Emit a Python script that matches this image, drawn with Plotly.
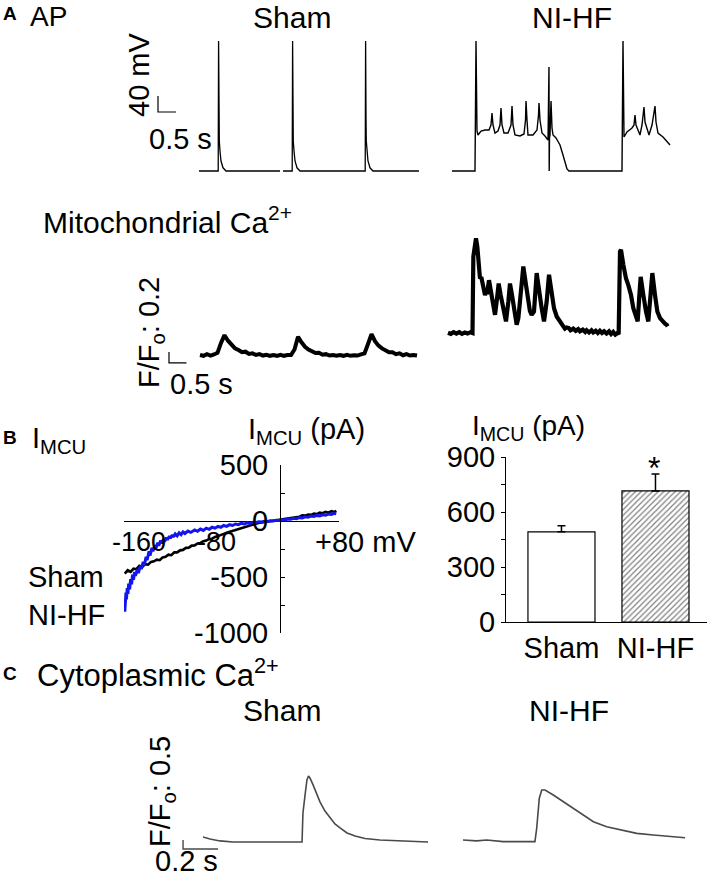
import plotly.graph_objects as go

W, H = 709, 878
FONT = "Liberation Sans, Arial, Helvetica, sans-serif"

# ---------------- Panel A : action potentials (time s, Vm mV) ----------------
sham_ap_t = [0.0, 0.533, 0.544, 0.556, 0.564, 0.583, 0.611, 0.667, 0.75, 2.25, None,
             2.333, 2.589, 2.6, 2.611, 2.619, 2.639, 2.667, 2.722, 2.806,
             4.617, 4.628, 4.639, 4.647, 4.667, 4.694, 4.75, 4.833, 6.11]
sham_ap_v = [-80, -80, 245, 55, -5, -30, -55, -72, -80, -80, None,
             -80, -80, 245, 55, -5, -30, -55, -72, -80,
             -80, 245, 55, -5, -30, -55, -72, -80, -80]
nihf_ap_t = [0, 0.639, 0.667, 0.694, 0.722, 0.806, 0.917, 1.028, 1.083, 1.111, 1.139, 1.194,
             1.278, 1.333, 1.361, 1.389, 1.444, 1.556, 1.639, 1.667, 1.694, 1.75, 1.889, 2.0,
             2.042, 2.056, 2.083, 2.111, 2.25, 2.361, 2.403, 2.417, 2.444, 2.5, 2.583, 2.667,
             2.694, 2.7, 2.708, 2.722, 2.75, 2.778, 2.806, 2.889, 3.0, 3.083, 3.139, 3.194, 3.25,
             4.722, 4.75, 4.778, 4.861, 5.0, 5.056, 5.083, 5.111, 5.222, 5.278, 5.333, 5.361,
             5.472, 5.556, 5.639, 5.667, 5.722, 5.861, 6.056]
nihf_ap_v = [-80, -80, 245, 20, 10, 20, 22.5, 22.5, 35, 65, 35, 15,
             20, 35, 77.5, 35, 15, 15, 35, 82.5, 35, 10, 7.5, 12.5,
             47.5, 95, 47.5, 10, 10, 22.5, 60, 90, 47.5, 15, 7.5, -2.5,
             180, -80, 2.5, 10, 95, 27.5, 10, 2.5, -15, -40, -60, -75, -80,
             -80, 245, 5, 17.5, 27.5, 35, 60, 35, 10, 35, 80, 42.5,
             10, 35, 82.5, 42.5, 15, 5, -15]
ap_bar_t = [-1.139, -1.139, -0.639]      # 0.5 s
ap_bar_v = [107.5, 67.5, 67.5]           # 40 mV

# ---------------- Panel A : mitochondrial Ca2+ (time s, F/F0) ----------------
sham_mito_t = [0.0, 0.1, 0.2, 0.3, 0.4, 0.5, 0.6, 0.7, 0.8, 0.9,
               1.0, 1.1, 1.2, 1.3, 1.4, 1.5, 1.6, 1.7, 1.8, 1.9,
               2.0, 2.1, 2.2, 2.3, 2.4, 2.5, 2.6, 2.7, 2.8, 2.9,
               3.0, 3.1, 3.2, 3.3, 3.4, 3.5, 3.6, 3.7, 3.8, 3.9,
               4.0, 4.1, 4.2, 4.3, 4.4, 4.5, 4.6, 4.7, 4.8, 4.9,
               5.0, 5.1, 5.2, 5.3, 5.4, 5.5, 5.6, 5.7, 5.8, 5.9,
               6.0, 6.1, 6.2]
sham_mito_f = [1.00, 0.985, 1.015, 0.99, 1.01, 1.04, 1.22, 1.36, 1.26, 1.19,
               1.12, 1.09, 1.05, 1.06, 1.02, 1.03, 1.00, 1.015, 0.99, 1.005,
               0.985, 1.00, 0.985, 1.005, 0.985, 1.00, 1.00, 1.10, 1.33, 1.23,
               1.15, 1.10, 1.06, 1.035, 1.04, 1.005, 1.015, 0.99, 1.00, 0.985,
               1.00, 0.985, 1.005, 0.985, 0.995, 0.99, 1.01, 1.03, 1.20, 1.38,
               1.25, 1.17, 1.12, 1.08, 1.05, 1.05, 1.015, 1.03, 0.995, 1.015,
               0.99, 1.00, 0.99]
nihf_mito_t = [0.00, 0.08, 0.16, 0.24, 0.32, 0.40, 0.48, 0.56, 0.64, 0.70,
               0.724, 0.771, 0.80, 0.838, 0.876, 0.914, 0.95, 0.99, 1.02, 1.057,
               1.09, 1.124, 1.171, 1.219, 1.25, 1.276, 1.31, 1.343, 1.39, 1.448,
               1.505, 1.54, 1.581, 1.62, 1.657, 1.724, 1.771, 1.829, 1.886, 1.93,
               1.962, 2.010, 2.076, 2.152, 2.229, 2.295, 2.34, 2.390, 2.457, 2.533,
               2.610, 2.676, 2.743, 2.819, 2.886, 2.962, 3.029, 3.105, 3.15, 3.2,
               3.25, 3.295, 3.34, 3.39, 3.45, 3.50, 3.58, 3.65, 3.72, 3.77,
               3.85, 3.92, 3.96, 4.03, 4.10, 4.15, 4.22, 4.28, 4.34, 4.40,
               4.46, 4.53, 4.60, 4.66, 4.72, 4.78, 4.84, 4.876, 4.914, 4.943,
               5.010, 5.05, 5.086, 5.152, 5.19, 5.229, 5.295, 5.371, 5.419, 5.467,
               5.505, 5.581, 5.62, 5.657, 5.724, 5.771, 5.838, 5.914, 5.981, 6.057,
               6.10, 6.152, 6.20, 6.248, 6.276]
nihf_mito_f = [1.005, 0.985, 1.015, 0.99, 1.015, 0.985, 1.01, 0.99, 1.015, 1.00,
               2.39, 2.69, 2.72, 2.57, 2.30, 1.99, 2.02, 1.87, 1.78, 1.69,
               1.76, 1.75, 1.96, 1.78, 1.66, 1.57, 1.45, 1.33, 1.57, 1.90,
               1.69, 1.56, 1.45, 1.32, 1.21, 1.57, 1.90, 1.69, 1.45, 1.28,
               1.15, 1.27, 1.69, 2.21, 1.87, 1.51, 1.40, 1.33, 1.39, 2.09,
               1.69, 1.45, 1.21, 1.57, 2.06, 1.75, 1.45, 1.30, 1.25, 1.21,
               1.15, 1.12, 1.08, 1.10, 1.09, 1.05, 1.08, 1.04, 1.07, 1.03,
               1.06, 1.02, 1.05, 1.01, 1.05, 1.01, 1.04, 1.00, 1.04, 1.00,
               1.03, 0.99, 1.03, 0.98, 1.02, 0.97, 1.00, 0.98, 2.48, 2.51,
               2.24, 2.10, 1.99, 1.87, 1.78, 1.69, 1.45, 1.27, 1.21, 1.69,
               2.02, 1.69, 1.50, 1.39, 1.21, 1.57, 2.09, 1.69, 1.39, 1.27,
               1.23, 1.21, 1.17, 1.15, 1.12]
mito_bar_t = [-0.886, -0.886, -0.386]    # 0.5 s
mito_bar_f = [1.055, 0.855, 0.855]       # 0.2 F/F0

# ---------------- Panel B : I-V relation (mV, pA) ----------------
sham_iv_v = [-160, -157, -154, -151, -148, -145, -142, -139, -136, -133, -130, -127, -124,
             -121, -118, -115, -112, -109, -106, -103, -100, -97, -94, -91, -88, -85, -82,
             -79, -76, -73, -70, -67, -64, -61, -58, -55, -52, -49, -46, -43, -40, -37, -34,
             -31, -28, -25, -22, -19, -16, -13, -10, -7, -4, -1, 2, 5, 8, 11, 14, 17, 20, 23,
             26, 29, 32, 35, 38, 41, 44, 47, 50, 53, 56, 58]
sham_iv_i = [-470, -440, -455, -425, -430, -400, -410, -385, -390, -365, -360, -345, -350,
             -325, -320, -300, -305, -280, -280, -262, -258, -240, -238, -220, -218, -200, -196,
             -180, -175, -160, -158, -142, -135, -122, -115, -104, -96, -84, -75, -66, -58, -50, -42,
             -35, -29, -24, -17, -12, -7, -3, 0, 3, 7, 10, 14, 18, 22, 28, 31, 40, 38, 50,
             48, 58, 55, 66, 62, 75, 70, 82, 74, 88, 80, 92]
nihf_iv_v = [-160, -159.6, -159.2, -158.8, -158.3, -157.5, -156.8, -156, -155, -154, -153,
             -152, -151, -150, -149, -147, -146, -144, -143, -141, -140, -138, -137, -135,
             -134, -132, -131, -129, -128, -126, -125, -123, -122, -120, -119, -117, -116,
             -114, -113, -111, -110, -108, -106, -104, -102, -100, -98, -95, -92, -88, -85,
             -82, -79, -76, -73, -70, -67, -64, -61, -58, -55, -52, -49, -46, -43, -40, -37,
             -34, -31, -28, -25, -22, -19, -16, -13, -10, -7, -4, -1, 2, 5, 8, 11, 14, 17,
             20, 23, 26, 29, 32, 35, 38, 41, 44, 47, 50, 53, 56, 58]
nihf_iv_i = [-810, -690, -760, -640, -700, -600, -650, -560, -610, -520, -565,
             -480, -525, -455, -490, -430, -465, -400, -430, -365, -400, -320, -350, -270,
             -310, -240, -270, -215, -245, -195, -220, -175, -200, -160, -185, -148, -168,
             -135, -155, -125, -142, -115, -132, -105, -122, -98, -112, -90, -102, -80, -92,
             -72, -84, -64, -74, -56, -64, -48, -56, -40, -48, -33, -40, -27, -33, -21, -27,
             -16, -21, -11, -15, -6, -9, -2, -4, 2, 0, 6, 5, 12, 10, 18, 16, 24, 21,
             30, 28, 38, 34, 44, 40, 50, 46, 56, 52, 62, 58, 68, 64]

# ---------------- Panel B : bar chart ----------------
bar_groups = ["Sham", "NI-HF"]
bar_mean = [492, 715]
bar_sem = [33, 92]

# ---------------- Panel C : cytoplasmic Ca2+ (time s, F/F0) ----------------
sham_cyto_t = [0.0, 0.04, 0.097, 0.171, 0.566, 0.571, 0.583, 0.594, 0.603, 0.611, 0.629,
               0.646, 0.669, 0.697, 0.726, 0.754, 0.783, 0.823, 0.869, 0.926, 1.011, 1.126, 1.286]
sham_cyto_f = [1.28, 1.17, 1.06, 1.0, 1.0, 2.6, 3.6, 4.45, 4.67, 4.56, 4.17,
               3.72, 3.22, 2.72, 2.33, 2.0, 1.78, 1.5, 1.33, 1.19, 1.11, 1.06, 1.0]
nihf_cyto_t = [0.0, 0.078, 0.135, 0.23, 0.326, 0.411, 0.421, 0.436, 0.45, 0.469, 0.516,
               0.573, 0.63, 0.687, 0.745, 0.821, 0.897, 0.993, 1.088, 1.183, 1.269]
nihf_cyto_f = [1.11, 1.06, 1.11, 1.02, 1.02, 1.02, 1.76, 3.43, 3.89, 3.89, 3.61,
               3.24, 2.87, 2.5, 2.13, 1.85, 1.67, 1.48, 1.39, 1.30, 1.24]
cyto_bar_t = [-0.114, -0.114, 0.086]     # 0.2 s
cyto_bar_f = [1.111, 0.611, 0.611]       # 0.5 F/F0

# ======================= figure =======================
fig = go.Figure()
layout = dict(width=W, height=H, margin=dict(l=0, r=0, t=0, b=0, pad=0, autoexpand=False),
              paper_bgcolor="white", plot_bgcolor="rgba(0,0,0,0)", showlegend=False,
              font=dict(family=FONT, size=29, color="black"))


def axes(n, box, x0, sx, y0, v0, sy):
    xl, xr, yt, yb = box
    s = "" if n == 1 else str(n)
    layout["xaxis" + s] = dict(domain=[xl / W, xr / W], range=[(xl - x0) / sx, (xr - x0) / sx],
                               visible=False, anchor="y" + s, fixedrange=True)
    layout["yaxis" + s] = dict(domain=[1 - yb / H, 1 - yt / H],
                               range=[v0 + (y0 - yb) / sy, v0 + (y0 - yt) / sy],
                               visible=False, anchor="x" + s, fixedrange=True)
    return "x" + s, "y" + s


def line(xs, ys, ax, color="black", width=1.2):
    fig.add_trace(go.Scatter(x=xs, y=ys, mode="lines", xaxis=ax[0], yaxis=ax[1],
                             line=dict(color=color, width=width), connectgaps=False,
                             hoverinfo="skip"))


a1 = axes(1, (150, 432, 32, 178), 199, 36, 171, -80, 0.4)
a2 = axes(2, (440, 705, 32, 178), 452, 36, 171, -80, 0.4)
a3 = axes(3, (160, 432, 225, 378), 200, 35, 355, 1.0, 55)
a4 = axes(4, (440, 705, 225, 378), 448, 35, 333, 1.0, 55)
a5 = axes(5, (124, 339, 465, 633), 280, 0.97, 521, 0, 0.112)
a7 = axes(7, (175, 445, 760, 858), 203, 175, 842, 1.0, 18)
a8 = axes(8, (452, 705, 760, 858), 463, 175, 842, 1.0, 18)

line(sham_ap_t, sham_ap_v, a1, width=1.3)
line(ap_bar_t, ap_bar_v, a1, width=1.2)
line(nihf_ap_t, nihf_ap_v, a2, width=1.4)
line(sham_mito_t, sham_mito_f, a3, width=4)
line(mito_bar_t, mito_bar_f, a3, width=1.2)
line(nihf_mito_t, nihf_mito_f, a4, width=4.2)
line(sham_iv_v, sham_iv_i, a5, width=2.6)
line(nihf_iv_v, nihf_iv_i, a5, color="#1414ee", width=3)
line(sham_cyto_t, sham_cyto_f, a7, color="#4a4a4a", width=1.6)
line(cyto_bar_t, cyto_bar_f, a7, color="#4a4a4a", width=1.4)
line(nihf_cyto_t, nihf_cyto_f, a8, color="#4a4a4a", width=1.6)

# I-V axes: vertical axis at 0 mV, horizontal zero line
layout["yaxis5"].update(visible=True, anchor="free", position=280 / W, showline=True,
                        linecolor="black", linewidth=1, ticks="inside", ticklen=4,
                        tickcolor="black", tickvals=[500, 0, -500, -1000],
                        ticktext=["500", "0", "-500", "-1000"], showgrid=False,
                        zeroline=True, zerolinecolor="black", zerolinewidth=1,
                        ticklabelstandoff=6, tickfont=dict(size=29),
                        minor=dict(dtick=250, tick0=0, ticks="inside", ticklen=4,
                                   tickcolor="black", showgrid=False))

# Bar chart
layout["xaxis6"] = dict(domain=[506 / W, 707 / W], range=[-0.59, 1.548], anchor="y6",
                        showline=True, linecolor="black", linewidth=1, ticks="",
                        tickvals=[0, 1], ticktext=bar_groups, showgrid=False,
                        zeroline=False, tickfont=dict(size=29), fixedrange=True)
layout["yaxis6"] = dict(domain=[1 - 622 / H, 1 - 457 / H], range=[0, 900], anchor="x6",
                        showline=True, linecolor="black", linewidth=1, ticks="outside",
                        ticklen=4, tickcolor="black", tickvals=[0, 300, 600, 900],
                        showgrid=False, zeroline=False, tickfont=dict(size=29),
                        minor=dict(dtick=150, tick0=0, ticks="outside", ticklen=4,
                                   tickcolor="black", showgrid=False),
                        fixedrange=True)
fig.add_trace(go.Bar(x=[0], y=[bar_mean[0]], width=[0.713], xaxis="x6", yaxis="y6",
                     marker=dict(color="white", line=dict(color="black", width=1.2)),
                     error_y=dict(type="data", symmetric=False, array=[bar_sem[0]],
                                  arrayminus=[0], color="black", thickness=1.5, width=4),
                     hoverinfo="skip"))
fig.add_trace(go.Bar(x=[1], y=[bar_mean[1]], width=[0.713], xaxis="x6", yaxis="y6",
                     marker=dict(color="white", line=dict(color="black", width=1.2),
                                 pattern=dict(shape="/", fgcolor="black", bgcolor="white",
                                              size=4, solidity=0.3)),
                     error_y=dict(type="data", symmetric=False, array=[bar_sem[1]],
                                  arrayminus=[0], color="black", thickness=1.5, width=4),
                     hoverinfo="skip"))

ann = []


def txt(s, x, y, size=29, xa="center", ya="middle", angle=0):
    ann.append(dict(text=s, x=x / W, y=1 - y / H, xref="paper", yref="paper",
                    xanchor=xa, yanchor=ya, showarrow=False, textangle=angle,
                    borderpad=0, font=dict(size=size, family=FONT, color="black")))


# Panel A
txt("<b>A</b>", 2, 13, size=19, xa="left")
txt("AP", 29, 0, size=28, xa="left", ya="top")
txt("Sham", 292, 0, size=30, ya="top")
txt("NI-HF", 572, 0, size=30, ya="top")
txt("40 mV", 139, 75, angle=-90)
txt("0.5 s", 180, 139)
txt("Mitochondrial Ca<sup>2+</sup>", 42, 220, size=30, xa="left")
txt("F/F<sub>o</sub>: 0.2", 151, 333, angle=-90)
txt("0.5 s", 201, 384)
# Panel B
txt("<b>B</b>", 2, 437, size=19, xa="left")
txt("I<sub>MCU</sub>", 31, 440, size=29, xa="left")
txt("I<sub>MCU</sub> (pA)", 247, 431, size=29, xa="left")
txt("-160", 139, 542, size=27)
txt("-80", 216, 542, size=27)
txt("+80 mV", 314, 542, size=29, xa="left")
txt("Sham", 27, 577, size=29, xa="left")
txt("NI-HF", 27, 615, size=29, xa="left")
txt("I<sub>MCU</sub> (pA)", 471, 428, size=28, xa="left")
txt("*", 654, 468, size=32)
# Panel C
txt("<b>C</b>", 2, 673, size=19, xa="left")
txt("Cytoplasmic Ca<sup>2+</sup>", 36, 673, size=31, xa="left")
txt("Sham", 282, 710, size=30)
txt("NI-HF", 569, 710, size=30)
txt("F/F<sub>o</sub>: 0.5", 162, 792, angle=-90)
txt("0.2 s", 187, 878, ya="bottom")

layout["annotations"] = ann
fig.update_layout(**layout)
fig.write_html("out.html", config={"displayModeBar": False},
               post_script="document.body.style.margin='0px';")
